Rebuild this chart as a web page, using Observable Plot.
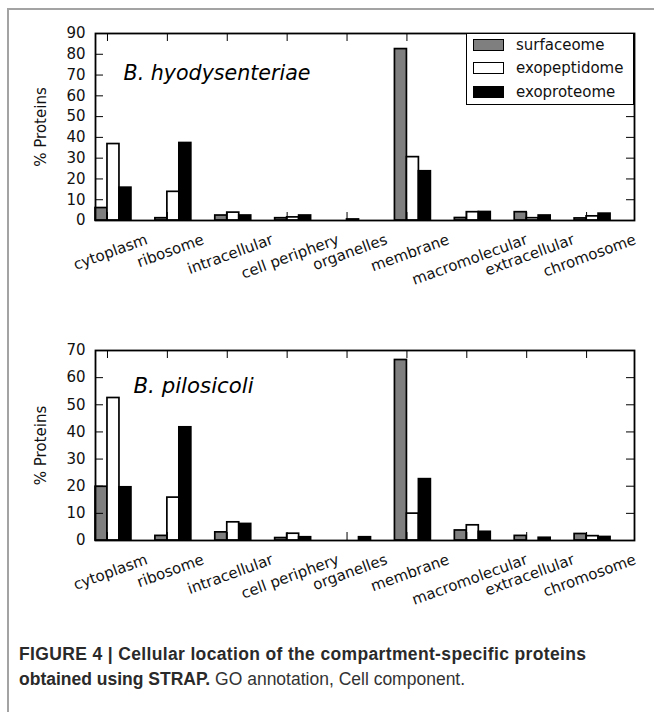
<!DOCTYPE html>
<html>
<head>
<meta charset="utf-8">
<script src="https://cdn.jsdelivr.net/npm/d3@7"></script>
<script src="https://cdn.jsdelivr.net/npm/@observablehq/plot@0.6"></script>
<style>
  html, body { margin: 0; padding: 0; background: #fff; }
  #page { position: relative; width: 654px; height: 712px; overflow: hidden; background: #fff; }
  #border { position: absolute; left: 7px; top: 8px; width: 700px; height: 760px;
            border-left: 2px solid #a3a3a3; border-top: 2px solid #a3a3a3; }
  .chart { position: absolute; left: 0; }
  #c1 { top: 0px; }
  #c2 { top: 300px; }
  .legend { position: absolute; left: 466px; top: 33px; width: 168px; height: 72px; box-sizing: border-box;
            border: 1.5px solid #000; background: #fff; font-family: "DejaVu Sans"; font-size: 15px; color: #111; }
  .legend .row { position: absolute; left: 6px; height: 18px; display: flex; align-items: center; }
  .legend .sw { width: 29px; height: 10px; border: 1.5px solid #000; margin-right: 12px; }
  #caption { position: absolute; left: 19px; top: 642px; font-family: "Liberation Sans"; font-size: 17.5px;
             line-height: 25px; color: #333; }
  #caption .l1 { letter-spacing: 0.35px; }
  #caption b { color: #2a2a2a; }
</style>
</head>
<body>
<div id="page">
  <div id="border"></div>
  <div id="c1" class="chart"></div>
  <div id="c2" class="chart"></div>
  <div class="legend" id="legend"></div>
  <div id="caption"><b class="l1">FIGURE 4 | Cellular location of the compartment-specific proteins</b><br><b>obtained using STRAP.</b> GO annotation, Cell component.</div>
</div>
<script>
// ---------- data ----------
const categories = ["cytoplasm", "ribosome", "intracellular", "cell periphery", "organelles",
                    "membrane", "macromolecular", "extracellular", "chromosome"];
const series = ["surfaceome", "exopeptidome", "exoproteome"];
const seriesColors = ["#7f7f7f", "#ffffff", "#000000"];

// B. hyodysenteriae
const hyoSurfaceome   = [6.0, 1.1, 2.4, 1.1, 0.0, 82.5, 1.2, 4.0, 1.0];
const hyoExopeptidome = [36.8, 13.8, 3.8, 1.5, 0.5, 30.5, 4.0, 1.1, 2.0];
const hyoExoproteome  = [15.8, 37.3, 2.4, 2.4, 0.0, 23.7, 4.1, 2.4, 3.3];
const hyoTicks = [0, 10, 20, 30, 40, 50, 60, 70, 80, 90];

// B. pilosicoli
const pilSurfaceome   = [19.8, 1.7, 3.0, 0.9, 0.0, 66.5, 3.7, 1.7, 2.4];
const pilExopeptidome = [52.5, 15.8, 6.7, 2.5, 0.0, 9.9, 5.6, 0.0, 1.6];
const pilExoproteome  = [19.6, 41.7, 6.1, 1.2, 1.2, 22.6, 3.2, 1.0, 1.3];
const pilTicks = [0, 10, 20, 30, 40, 50, 60, 70];

const yLabel = "% Proteins";

// ---------- helpers ----------
const canvas = document.createElement("canvas");
const ctx = canvas.getContext("2d");
const tickFont = 15;
ctx.font = `${tickFont}px "DejaVu Sans"`;
const rot = 20;
const rad = rot * Math.PI / 180;

function makeChart({values, ticks, title, titleSize, titleDx, titleDy, height, marginTop, marginBottom}) {
  const rows = [];
  series.forEach((s, j) => values[j].forEach((v, i) => rows.push({cat: categories[i], i, s, j, v})));
  const width = 654, marginLeft = 95, marginRight = 20;
  const frameW = width - marginLeft - marginRight;
  const frameH = height - marginTop - marginBottom;
  const tickLen = 8;
  const barW = 0.2;
  const idx = categories.map((c, i) => i);

  const xLabels = categories.map((c, i) => {
    const w = ctx.measureText(c).width;
    return Plot.text([c], {
      x: () => i, text: d => d, frameAnchor: "bottom", rotate: -rot,
      textAnchor: "middle", lineAnchor: "top", fontSize: tickFont,
      dy: 13 + (w / 2) * Math.sin(rad), dx: 1, fill: "#111"
    });
  });

  return Plot.plot({
    width, height, marginLeft, marginRight, marginTop, marginBottom,
    style: {fontFamily: "DejaVu Sans", fontSize: `${tickFont}px`, color: "#111", background: "transparent"},
    x: {domain: [-0.2, 8.8], axis: null},
    y: {domain: [ticks[0], ticks[ticks.length - 1]], axis: null},
    color: {domain: series, range: seriesColors},
    marks: [
      Plot.rectY(rows, {
        x1: d => d.i + (d.j - 1) * barW, x2: d => d.i + d.j * barW,
        y: "v", fill: "s", stroke: "#000", strokeWidth: 1.7
      }),
      // inward ticks on all four sides
      Plot.tickY(ticks, {y: d => d, stroke: "#000", strokeWidth: 1, insetRight: frameW - tickLen}),
      Plot.tickY(ticks, {y: d => d, stroke: "#000", strokeWidth: 1, insetLeft: frameW - tickLen}),
      Plot.tickX(idx, {x: d => d, stroke: "#000", strokeWidth: 1, insetBottom: frameH - tickLen}),
      Plot.tickX(idx, {x: d => d, stroke: "#000", strokeWidth: 1, insetTop: frameH - tickLen}),
      Plot.axisY(ticks, {tickSize: 0, tickPadding: 10, label: null, fontSize: tickFont, fill: "#111"}),
      Plot.text([yLabel], {frameAnchor: "left", rotate: -90, dx: -54, textAnchor: "middle",
                           lineAnchor: "middle", fontSize: tickFont, fill: "#111"}),
      ...xLabels,
      Plot.text([title], {frameAnchor: "top-left", dx: titleDx, dy: titleDy, textAnchor: "start",
                          lineAnchor: "top", fontSize: titleSize, fontStyle: "italic",
                          fontFamily: "DejaVu Sans", fill: "#000"}),
      Plot.frame({stroke: "#000", strokeWidth: 1.8})
    ]
  });
}

document.getElementById("c1").append(makeChart({
  values: [hyoSurfaceome, hyoExopeptidome, hyoExoproteome], ticks: hyoTicks,
  title: "B. hyodysenteriae", titleSize: 20.6, titleDx: 28, titleDy: 32,
  height: 290, marginTop: 33, marginBottom: 70
}));

document.getElementById("c2").append(makeChart({
  values: [pilSurfaceome, pilExopeptidome, pilExoproteome], ticks: pilTicks,
  title: "B. pilosicoli", titleSize: 21.3, titleDx: 38, titleDy: 27,
  height: 320, marginTop: 50, marginBottom: 80
}));

// legend
const legend = document.getElementById("legend");
series.forEach((s, j) => {
  const row = document.createElement("div");
  row.className = "row";
  row.style.top = `${2 + j * 23.3}px`;
  const sw = document.createElement("div");
  sw.className = "sw";
  sw.style.background = seriesColors[j];
  const lab = document.createElement("span");
  lab.textContent = s;
  row.append(sw, lab);
  legend.append(row);
});
</script>
</body>
</html>
